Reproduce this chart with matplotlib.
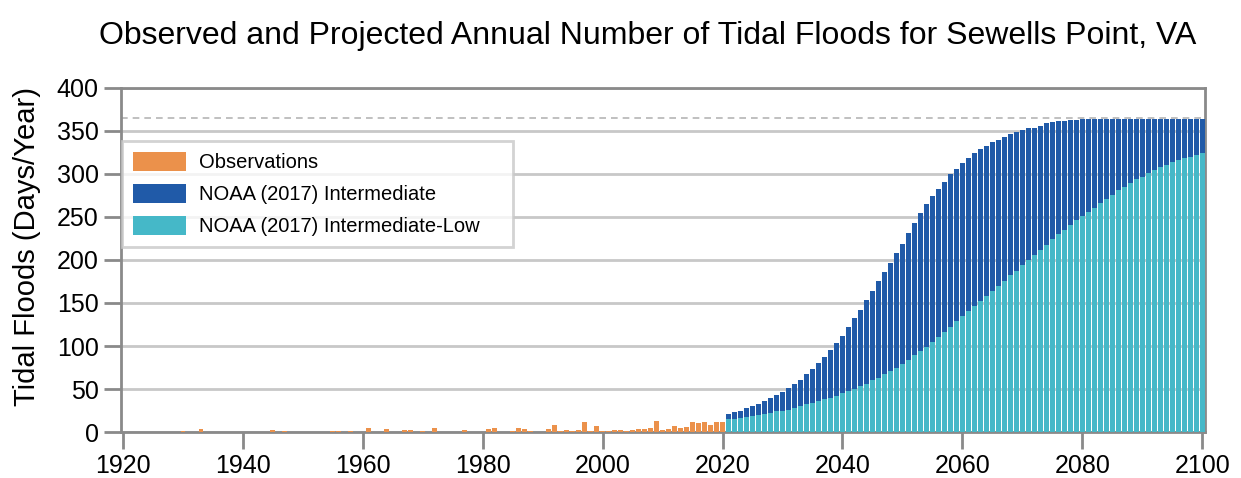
import matplotlib
matplotlib.use("Agg")
import matplotlib.pyplot as plt
from matplotlib import font_manager
from matplotlib.patches import Patch
import numpy as np

# ---------------- data ----------------
obs_years = [1930, 1933, 1945, 1947, 1955, 1956, 1958, 1961, 1964, 1967, 1968, 1970,
             1972, 1977, 1981, 1982, 1985, 1986, 1987, 1988, 1991, 1992, 1993, 1994,
             1995, 1996, 1997, 1998, 1999, 2000, 2001, 2002, 2003, 2004, 2005, 2006,
             2007, 2008, 2009, 2010, 2011, 2012, 2013, 2014, 2015, 2016, 2017, 2018,
             2019, 2020]
obs_values = [1, 4, 2, 1, 1, 1, 1, 5, 4, 2, 2, 1,
              5, 2, 3, 5, 1, 5, 3, 1, 3, 8, 1, 2,
              1, 2, 12, 1, 7, 1, 1, 2, 2, 1, 2, 4,
              3, 5, 13, 2, 4, 7, 5, 6, 12, 10, 12, 8,
              12, 12]

proj_years = list(range(2021, 2101))
intermediate = [21, 23, 25, 28, 30, 33, 36, 39, 43, 47,
                51, 56, 61, 67, 73, 80, 87, 95, 103, 112,
                122, 132, 142, 153, 164, 175, 186, 197, 208, 219,
                231, 243, 255, 265, 274, 283, 291, 300, 306, 313,
                319, 324, 329, 333, 337, 340, 343, 346, 349, 351,
                353, 354, 356, 359, 360, 361, 362, 363, 363, 364,
                364, 364, 364, 364, 364, 364, 364, 364, 364, 364,
                364, 364, 364, 364, 364, 364, 364, 364, 364, 364]
intermediate_low = [15, 15, 16, 18, 19, 20, 21, 22, 24, 25,
                    26, 28, 30, 32, 34, 36, 38, 40, 42, 45,
                    48, 50, 53, 56, 60, 63, 67, 71, 75, 79,
                    84, 89, 94, 99, 105, 110, 116, 122, 129, 135,
                    141, 146, 152, 158, 164, 170, 176, 182, 187, 194,
                    200, 206, 212, 217, 224, 230, 235, 241, 246, 251,
                    256, 261, 266, 271, 276, 281, 285, 290, 294, 297,
                    301, 305, 308, 311, 314, 316, 318, 320, 322, 324]

max_days = 365
y_ticks = [0, 50, 100, 150, 200, 250, 300, 350, 400]
x_ticks = [1920, 1940, 1960, 1980, 2000, 2020, 2040, 2060, 2080, 2100]

title = "Observed and Projected Annual Number of Tidal Floods for Sewells Point, VA"
ylabel = "Tidal Floods (Days/Year)"
legend_labels = ["Observations", "NOAA (2017) Intermediate", "NOAA (2017) Intermediate-Low"]

# ---------------- style ----------------
c_obs = "#EB914B"
c_int = "#205AA8"
c_low = "#45B8C8"
c_axis = "#8a8a8a"
c_grid = "#c8c8c8"

names = {f.name for f in font_manager.fontManager.ttflist}
main_font = "Liberation Sans" if "Liberation Sans" in names else "DejaVu Sans"
leg_font = "Liberation Sans Narrow" if "Liberation Sans Narrow" in names else main_font
plt.rcParams["font.family"] = [main_font, "DejaVu Sans"]

fig = plt.figure(figsize=(12.41, 4.78), dpi=100)
ax = fig.add_axes([0.0975, 0.0962, 0.8735, 0.7198])

bw = 0.75
ax.bar(proj_years, intermediate, width=bw, color=c_int, zorder=3, linewidth=0)
ax.bar(proj_years, intermediate_low, width=bw, color=c_low, zorder=4, linewidth=0)
ax.bar(obs_years, obs_values, width=bw, color=c_obs, zorder=3, linewidth=0)

ax.axhline(max_days, color="#b5b5b5", linestyle=(0, (4, 3)), linewidth=1.2, zorder=2)

ax.set_xlim(1919.7, 2100.45)
ax.set_ylim(0, 400)
ax.set_yticks(y_ticks)
ax.set_xticks(x_ticks)
ax.yaxis.grid(True, color=c_grid, linewidth=2, zorder=1)
ax.set_axisbelow(True)

for s in ax.spines.values():
    s.set_color(c_axis)
    s.set_linewidth(2)

ax.tick_params(axis="both", colors=c_axis, length=12, width=2, labelsize=18,
               labelcolor="black", direction="out", pad=4)
ax.set_ylabel(ylabel, fontsize=21)
ax.yaxis.set_label_coords(-0.074, 0.539)

fig.text(0.522, 0.925, title, ha="center", va="center", fontsize=23)

handles = [Patch(facecolor=c_obs, edgecolor="none"),
           Patch(facecolor=c_int, edgecolor="none"),
           Patch(facecolor=c_low, edgecolor="none")]
leg_fs = 14.5 if leg_font == main_font else 16
x0 = 0.001
w = (513 - 122) / 1084
y_top = (433 - 142) / 344
leg = ax.legend(handles, legend_labels, loc="upper left",
                bbox_to_anchor=(x0, y_top - 0.5, w, 0.5), mode="expand",
                frameon=True, fancybox=False, borderpad=0.55, labelspacing=0.58,
                handlelength=2.6, handleheight=1.05, handletextpad=0.65,
                borderaxespad=0,
                prop={"family": leg_font, "size": leg_fs})
leg.get_frame().set_edgecolor("#c8c8c8")
leg.get_frame().set_linewidth(2)
leg.set_zorder(10)

fig.savefig("out.png", dpi=100)
